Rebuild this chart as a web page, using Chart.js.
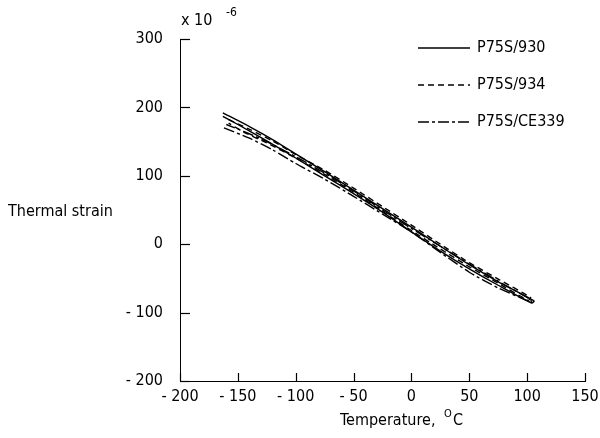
<!DOCTYPE html>
<html>
<head>
<meta charset="utf-8">
<script src="https://cdn.jsdelivr.net/npm/chart.js@4"></script>
<style>
  html, body { margin: 0; padding: 0; background: #fff; }
  #wrap { width: 600px; height: 438px; }
</style>
</head>
<body>
<div id="wrap"><canvas id="strainChart"></canvas></div>
<script>
// temperatures (deg C) and strains (x 10^-6), each series is a cool-down / warm-up loop
const temp930   = [-163, -140, -120, -100, -75, -50, -25, 0, 25, 50, 75, 106, 104, 75, 50, 25, 0, -25, -50, -75, -100, -125, -150, -163];
const strain930 = [192, 172, 153, 132, 106, 79, 52, 25, -3, -30, -55, -83, -86, -60, -36, -10, 18, 47, 74, 100, 126, 151, 175, 187];

const temp934   = [-158, -140, -120, -100, -75, -50, -25, 0, 25, 50, 75, 103, 101, 75, 50, 25, 0, -25, -50, -75, -100, -125, -145, -158];
const strain934 = [182, 168, 151, 131, 108, 82, 55, 28, 0, -27, -51, -78, -82, -57, -33, -7, 20, 48, 76, 102, 126, 148, 164, 177];

const temp339   = [-162, -140, -120, -100, -75, -50, -25, 0, 25, 50, 75, 104, 102, 75, 50, 25, 0, -25, -50, -75, -100, -125, -145, -160];
const strain339 = [170, 155, 138, 118, 95, 70, 44, 18, -12, -41, -64, -85, -80, -54, -29, -3, 23, 50, 78, 104, 128, 150, 165, 175];

const xTicks = [-200, -150, -100, -50, 0, 50, 100, 150];
const yTicks = [-200, -100, 0, 100, 200, 300];

const seriesNames = ['P75S/930', 'P75S/934', 'P75S/CE339'];
const dashes = [[], [6, 4], [11, 3, 3, 3]];

const FONT = '"DejaVu Sans Condensed", "Liberation Sans Narrow", "DejaVu Sans", sans-serif';

function pts(xs, ys) {
  return xs.map((x, i) => ({ x: x, y: ys[i] }));
}
function fmt(v) {
  return v < 0 ? '- ' + Math.abs(v) : String(v);
}

const decor = {
  id: 'decor',
  afterDraw(chart) {
    const ctx = chart.ctx;
    const xs = chart.scales.x, ys = chart.scales.y;
    const a = chart.chartArea;
    ctx.save();
    ctx.setLineDash([]);
    ctx.strokeStyle = '#000';
    ctx.lineWidth = 1.2;
    // inward tick marks
    yTicks.forEach(v => {
      const py = Math.round(ys.getPixelForValue(v)) + 0.5;
      ctx.beginPath(); ctx.moveTo(a.left, py); ctx.lineTo(a.left + 10, py); ctx.stroke();
    });
    xTicks.forEach(v => {
      const px = Math.round(xs.getPixelForValue(v)) + 0.5;
      ctx.beginPath(); ctx.moveTo(px, a.bottom); ctx.lineTo(px, a.bottom - 8); ctx.stroke();
    });
    // axis titles
    ctx.fillStyle = '#000';
    ctx.font = '16px ' + FONT;
    ctx.textBaseline = 'middle';
    ctx.textAlign = 'left';
    ctx.fillText('Thermal strain', 8, 212);
    ctx.fillText('x 10', 181, 21);
    ctx.font = '12px ' + FONT;
    ctx.fillText('-6', 226, 13);
    ctx.font = '16px ' + FONT;
    ctx.fillText('Temperature,', 340, 421);
    ctx.font = '11px ' + FONT;
    ctx.fillText('O', 444, 414);
    ctx.font = '16px ' + FONT;
    ctx.fillText('C', 453, 421);
    // legend
    seriesNames.forEach((n, i) => {
      const ly = 48 + i * 37;
      ctx.setLineDash(dashes[i]);
      ctx.lineWidth = 1.5;
      ctx.beginPath(); ctx.moveTo(418, ly); ctx.lineTo(470, ly); ctx.stroke();
      ctx.setLineDash([]);
      ctx.fillText(n, 477, ly);
    });
    ctx.restore();
  }
};

new Chart(document.getElementById('strainChart'), {
  type: 'scatter',
  data: {
    datasets: [
      { label: seriesNames[0], data: pts(temp930, strain930), borderDash: dashes[0] },
      { label: seriesNames[1], data: pts(temp934, strain934), borderDash: dashes[1] },
      { label: seriesNames[2], data: pts(temp339, strain339), borderDash: dashes[2] }
    ].map(d => Object.assign(d, {
      showLine: true, borderColor: '#000', borderWidth: 1.4,
      pointRadius: 0, tension: 0.2, fill: false
    }))
  },
  options: {
    responsive: true,
    maintainAspectRatio: false,
    animation: false,
    layout: { padding: { top: 39, right: 15, left: 0, bottom: 0 } },
    plugins: { legend: { display: false }, tooltip: { enabled: false } },
    scales: {
      x: {
        type: 'linear', min: -200, max: 150,
        afterBuildTicks: s => { s.ticks = xTicks.map(v => ({ value: v })); },
        afterFit: s => { s.height = 57; s.paddingLeft = 0; s.paddingRight = 0; },
        grid: { display: false, drawTicks: false },
        border: { display: true, color: '#000', width: 1 },
        ticks: { color: '#000', font: { family: FONT, size: 16 }, padding: 6, maxRotation: 0, callback: fmt }
      },
      y: {
        type: 'linear', min: -200, max: 300,
        afterBuildTicks: s => { s.ticks = yTicks.map(v => ({ value: v })); },
        afterFit: s => { s.width = 180; s.paddingTop = 0; s.paddingBottom = 0; },
        grid: { display: false, drawTicks: false },
        border: { display: true, color: '#000', width: 1 },
        ticks: { color: '#000', font: { family: FONT, size: 16 }, padding: 17, callback: fmt }
      }
    }
  },
  plugins: [decor]
});
</script>
</body>
</html>
